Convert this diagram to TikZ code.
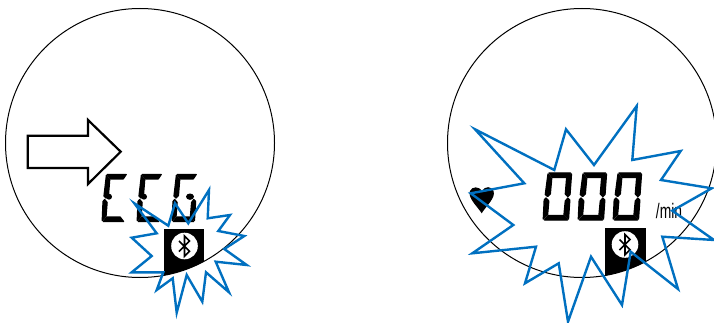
\documentclass[tikz,border=0pt]{standalone}
\usepackage{fontspec}
\setmainfont{Liberation Sans}
\usepackage{xcolor}
\usetikzlibrary{calc}
\definecolor{burstblue}{HTML}{0070C0}
\tikzset{
  dial/.style     = {draw, line width=1pt},
  burst/.style    = {draw=burstblue, line width=2.4pt, miter limit=20},
  hintarrow/.style= {draw, fill=white, line width=2.2pt, miter limit=20},
  lcdseg/.style   = {fill, draw, line width=1.3pt, line join=round},
  btglyph/.style  = {draw, line width=1.6pt},
}
% segments of one LCD digit, measured from its top left corner
\newcommand{\sega}{(6,0) -- (27.5,0) -- (24,4.5) -- (9.5,4.5) -- cycle}
\newcommand{\segb}{(28.5,1) -- (27,21.5) -- (24.8,23.5) -- (22.3,21) -- (23.6,5.5) -- cycle}
\newcommand{\segc}{(24.8,25) -- (26.8,27) -- (25.5,46) -- (21,41.5) -- (22.3,28) -- cycle}
\newcommand{\segd}{(1.5,47) -- (24.5,47) -- (20.5,42.5) -- (5.5,42.5) -- cycle}
\newcommand{\sege}{(3,25) -- (5.8,28) -- (4.6,41.5) -- (0.3,46) -- (1.2,27) -- cycle}
\newcommand{\segf}{(5,1) -- (8.7,5.5) -- (7.3,21) -- (4.6,23.5) -- (2.3,21.5) -- cycle}
\newcommand{\lcddigit}[4]{%
  \begin{scope}[shift={(#1,#2)},xscale=#4]
  \foreach \s in {#3}{\fill[lcdseg] \csname seg\s\endcsname;}
  \end{scope}}
\newcommand{\btmark}[2]{%
  \begin{scope}[shift={(#1,#2)}]
  \fill[white] (0,0) circle (13.3);
  \draw[btglyph] (-5.5,-5) -- (5,5.3) -- (0,10.3) -- (0,-10) -- (5,-5) -- (-5.5,5.6);
  \end{scope}}

\begin{document}
\begin{tikzpicture}[x=1pt,y=-1pt]
\useasboundingbox (0,0) rectangle (714,323);
% left dial
\begin{scope}
\clip (140,143) circle (134.5);
\fill (164,229.3) rectangle (204.3,300);
\end{scope}
\draw[dial] (140,143) circle (134.5);
\btmark{184.5}{246}
\draw[hintarrow] (27.7,135.7) -- (88,135.7) -- (88,120) -- (120.7,151.7) -- (88,184)
  -- (88,168) -- (27.7,168) -- cycle;
\lcddigit{102}{174.5}{a,d,e,f}{0.88}
\lcddigit{137}{174.5}{a,d,e,f}{0.88}
\lcddigit{172}{174.5}{a,c,d,e,f}{0.88}
\fill (109,196.7) circle (3);
\fill (144,196.7) circle (3);
\fill (190,196.7) ellipse (4 and 3.2);
\draw[burst] (134.3,203.3) -- (168.3,225.7) -- (175,203.3) -- (188.3,223.3) -- (209,190)
  -- (207.7,218.3) -- (230,215) -- (218.3,231) -- (244.3,236) -- (224.3,249)
  -- (246.7,265) -- (215.7,261.7) -- (229,292.3) -- (206,272.3) -- (202.3,301.7)
  -- (186.7,275) -- (176.7,312.7) -- (172.7,278.3) -- (156.7,290) -- (163.3,272.3)
  -- (131.7,272.3) -- (151.7,256) -- (131.7,237.7) -- (156.7,233.3) -- cycle;
% right dial
\begin{scope}
\clip (582,143) circle (134.5);
\fill (605,228.3) rectangle (645.7,300);
\end{scope}
\draw[dial] (582,143) circle (134.5);
\btmark{625}{244.5}
\fill (482,190.7) .. controls (479,186.5) and (472,186) .. (470,191)
  .. controls (467.5,198) and (477,206) .. (481.7,213.3)
  .. controls (486,206) and (496,198) .. (493.5,191)
  .. controls (491.5,186) and (485,186) .. (482,190.7) -- cycle;
\lcddigit{543}{173}{a,b,c,d,e,f}{1}
\lcddigit{578}{173}{a,b,c,d,e,f}{1}
\lcddigit{613}{173}{a,b,c,d,e,f}{1}
\node[font=\fontsize{21}{21}\selectfont,xscale=0.66] (permin) at (669,211) {/min};
\draw[burst] (475,129.3) -- (554.3,170) -- (566,129.3) -- (594,165) -- (636.7,106)
  -- (632.3,160) -- (680.7,151) -- (661,180) -- (711.7,188.3) -- (672.3,210.7)
  -- (714,240) -- (662.3,236.7) -- (678,289) -- (630.7,251.7) -- (622,305)
  -- (591,256.7) -- (568,321.7) -- (558.7,263.3) -- (525,283.3) -- (536,246.7)
  -- (472.3,253.3) -- (513.3,225) -- (470.7,193.3) -- (524.3,183.3) -- cycle;
\end{tikzpicture}
\end{document}
